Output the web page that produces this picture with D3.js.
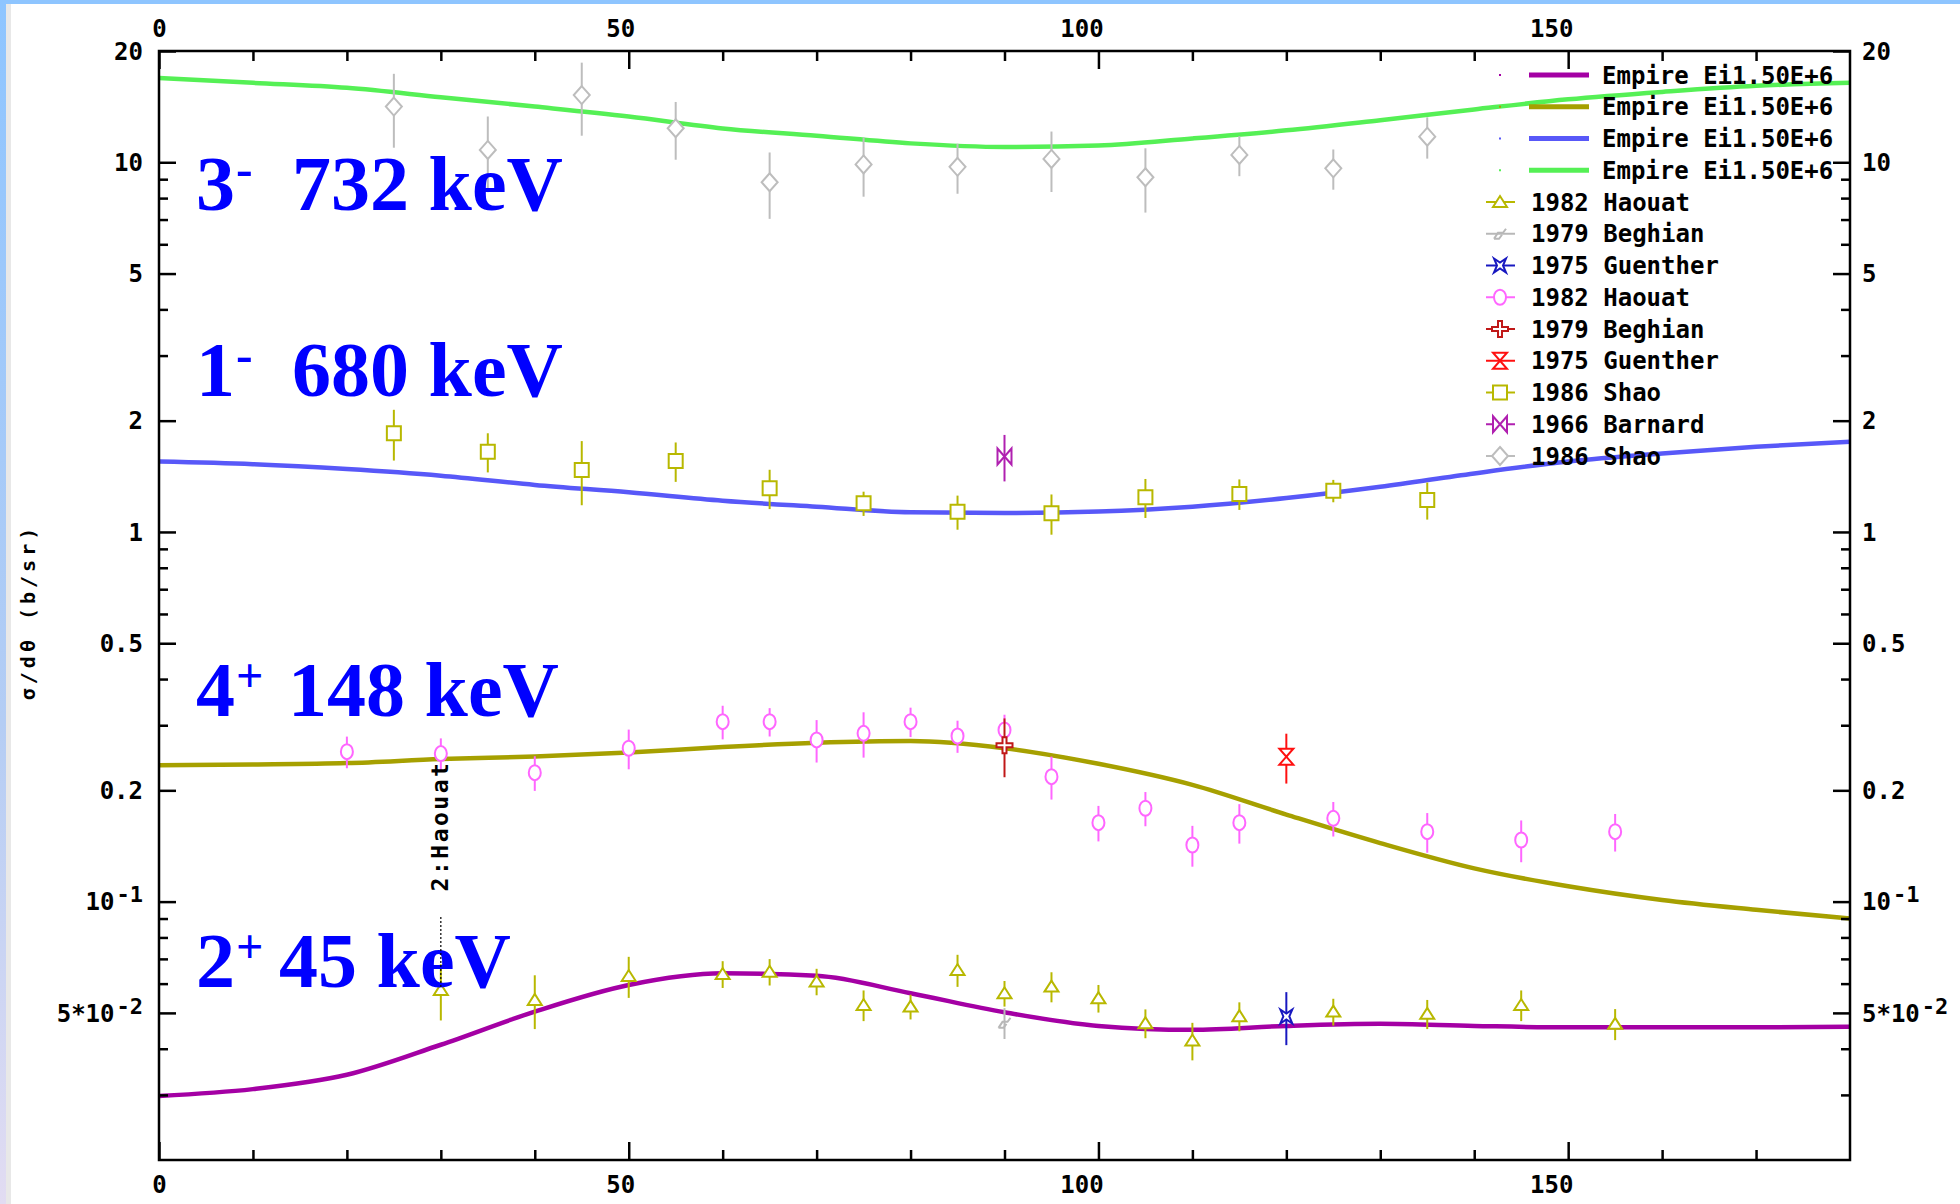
<!DOCTYPE html>
<html>
<head>
<meta charset="utf-8">
<script src="https://cdn.jsdelivr.net/npm/d3@7"></script>
<style>
  body { margin: 0; background: #fff; }
  svg { display: block; }
</style>
</head>
<body>
<svg id="chart" width="1960" height="1204"></svg>
<script>
// angles of the Empire curves (deg)
const angles = [0, 10, 20, 30, 40, 50, 60, 70, 80, 90, 100, 110, 120, 130, 140, 150, 160, 170, 180];

// Empire Ei1.50E+6 curves, one per level (b/sr)
const empire2p = [0.0298, 0.0311, 0.034, 0.041, 0.0504, 0.0595, 0.064, 0.063, 0.0565, 0.0502, 0.0461, 0.045, 0.0461, 0.0467, 0.0461, 0.0457, 0.0457, 0.0457, 0.0459];
const empire4p = [0.234, 0.235, 0.237, 0.243, 0.247, 0.253, 0.262, 0.269, 0.272, 0.26, 0.236, 0.207, 0.172, 0.144, 0.123, 0.110, 0.101, 0.095, 0.090];
const empire1m = [1.55, 1.525, 1.48, 1.42, 1.34, 1.28, 1.215, 1.17, 1.13, 1.125, 1.135, 1.17, 1.235, 1.325, 1.44, 1.55, 1.63, 1.70, 1.755];
const empire3m = [16.9, 16.4, 15.9, 15.0, 14.15, 13.3, 12.35, 11.8, 11.25, 11.0, 11.1, 11.6, 12.2, 13.0, 13.9, 14.8, 15.5, 16.1, 16.4];

// experimental points: [angle, value, error]
const haouat2p = [[30, 0.0577, 0.010], [40, 0.0542, 0.009], [50, 0.0629, 0.008], [60, 0.0637, 0.0053], [65, 0.0646, 0.0053],
  [70, 0.0608, 0.005], [75, 0.0525, 0.005], [80, 0.052, 0.004], [85, 0.0653, 0.0065], [90, 0.0565, 0.0045],
  [95, 0.0589, 0.0055], [100, 0.0548, 0.0047], [105, 0.0469, 0.0042], [110, 0.0421, 0.0049], [115, 0.049, 0.0044],
  [125, 0.0504, 0.0042], [135, 0.0497, 0.0045], [145, 0.0525, 0.005], [155, 0.0467, 0.0045]];
const beghian2p = [[90, 0.047, 0.0045]];
const guenther2p = [[120, 0.0489, 0.008]];
const haouat4p = [[20, 0.2545, 0.025], [30, 0.2514, 0.025], [40, 0.2233, 0.024], [50, 0.26, 0.032], [60, 0.3067, 0.032],
  [65, 0.3067, 0.027], [70, 0.2738, 0.036], [75, 0.2852, 0.04], [80, 0.3067, 0.028], [85, 0.2806, 0.028],
  [90, 0.2913, 0.029], [95, 0.2178, 0.029], [100, 0.1635, 0.018], [105, 0.1789, 0.019], [110, 0.1423, 0.018],
  [115, 0.1635, 0.02], [125, 0.168, 0.018], [135, 0.1546, 0.019], [145, 0.1468, 0.019], [155, 0.1546, 0.018]];
const beghian4p = [[90, 0.265, 0.048]];
const guenther4p = [[120, 0.2466, 0.038]];
const shao1m = [[25, 1.85, 0.29], [35, 1.649, 0.2], [45, 1.471, 0.29], [55, 1.556, 0.19], [65, 1.313, 0.16], [75, 1.195, 0.09],
  [85, 1.134, 0.12], [95, 1.123, 0.14], [105, 1.241, 0.15], [115, 1.267, 0.12], [125, 1.293, 0.09], [135, 1.22, 0.14]];
const barnard1m = [[90, 1.6, 0.23]];
const shao3m = [[25, 14.15, 3.2], [35, 10.8, 2.5], [45, 15.2, 3.4], [55, 12.36, 2.2], [65, 8.83, 1.8], [75, 9.87, 1.8],
  [85, 9.72, 1.5], [95, 10.21, 1.9], [105, 9.11, 1.8], [115, 10.47, 1.3], [125, 9.63, 1.2], [135, 11.73, 1.5]];

// axis ticks
const xMajor = [0, 50, 100, 150];
const xMinor = [10, 20, 30, 40, 60, 70, 80, 90, 110, 120, 130, 140, 160, 170];
const yMajor = [20, 10, 5, 2, 1, 0.5, 0.2, 0.1, 0.05];
const yMinor = [9, 8, 7, 6, 4, 3, 0.9, 0.8, 0.7, 0.6, 0.4, 0.3, 0.09, 0.08, 0.07, 0.06, 0.04, 0.03];
const yLabels = [['20'], ['10'], ['5'], ['2'], ['1'], ['0.5'], ['0.2'], ['10', '-1'], ['5*10', '-2']];

const svg = d3.select('#chart');
const mono = '"DejaVu Sans Mono", "Liberation Mono", monospace';

const x = d3.scaleLinear().domain([0, 180]).range([159, 1850]);
const y = d3.scaleLog().domain([0.02, 20]).range([1160, 51]);

// window frame decoration
const grad = svg.append('defs').append('linearGradient').attr('id', 'side').attr('x1', 0).attr('y1', 0).attr('x2', 0).attr('y2', 1);
grad.append('stop').attr('offset', '0%').attr('stop-color', '#8ec5ff');
grad.append('stop').attr('offset', '60%').attr('stop-color', '#b4cdf4');
grad.append('stop').attr('offset', '100%').attr('stop-color', '#e2dcf2');
svg.append('rect').attr('x', 0).attr('y', 0).attr('width', 1960).attr('height', 4).attr('fill', '#8ec5ff');
svg.append('rect').attr('x', 0).attr('y', 0).attr('width', 6).attr('height', 1204).attr('fill', 'url(#side)');
svg.append('rect').attr('x', 6).attr('y', 4).attr('width', 5).attr('height', 1200).attr('fill', '#e8e8e8');

// curves
const line = d3.line().x((d, i) => x(angles[i])).y(d => y(d)).curve(d3.curveMonotoneX);
[[empire3m, '#55f055'], [empire1m, '#5858f8'], [empire4p, '#a6a000'], [empire2p, '#a400a4']].forEach(([vals, col]) => {
  svg.append('path').datum(vals).attr('d', line).attr('fill', 'none').attr('stroke', col).attr('stroke-width', 4.5);
});

// marker shapes
const shapes = {
  triangle: 'M-7,5 L7,5 L0,-6 Z',
  square: 'M-7,-7 H7 V7 H-7 Z',
  circle: 'M-6,0 A6,7.5 0 1,0 6,0 A6,7.5 0 1,0 -6,0 Z',
  diamond: 'M0,-9 L8,0 L0,9 L-8,0 Z',
  bolt: 'M-6,5 L-2,-1 L3,-1 L6,-5 M-6,5 L-1,5 L2,1',
  star: 'M-6,-7 L0,-3 L6,-7 L3,0 L6,7 L0,3 L-6,7 L-3,0 Z',
  cross: 'M-2,-8 H2 V-2 H8 V2 H2 V8 H-2 V2 H-8 V-2 H-2 Z',
  hourglass: 'M-7,-8 H7 L0,0 Z M-7,8 H7 L0,0 Z',
  bowtie: 'M-7,-8 V8 L0,0 Z M7,-8 V8 L0,0 Z'
};

const sets = [
  { data: shao3m, shape: 'diamond', color: '#bdbdbd' },
  { data: shao1m, shape: 'square', color: '#b8b800' },
  { data: barnard1m, shape: 'bowtie', color: '#b020b0' },
  { data: haouat4p, shape: 'circle', color: '#ff66ff' },
  { data: beghian4p, shape: 'cross', color: '#c01818' },
  { data: guenther4p, shape: 'hourglass', color: '#ff1010' },
  { data: haouat2p, shape: 'triangle', color: '#b8b800' },
  { data: beghian2p, shape: 'bolt', color: '#b8b8b8' },
  { data: guenther2p, shape: 'star', color: '#1818c0' }
];

sets.forEach(s => {
  const g = svg.append('g');
  g.selectAll('line').data(s.data).join('line')
    .attr('x1', d => x(d[0])).attr('x2', d => x(d[0]))
    .attr('y1', d => y(d[1] + d[2])).attr('y2', d => y(d[1] - d[2]))
    .attr('stroke', s.color).attr('stroke-width', 2);
  g.selectAll('path').data(s.data).join('path')
    .attr('transform', d => `translate(${x(d[0])},${y(d[1])})`)
    .attr('d', shapes[s.shape])
    .attr('fill', s.shape === 'bolt' ? 'none' : '#fff')
    .attr('stroke', s.color).attr('stroke-width', 2);
});

// level labels
const levels = [
  { spin: '3', parity: '-', rest: '732 keV', base: 210, restX: 292 },
  { spin: '1', parity: '-', rest: '680 keV', base: 396, restX: 292 },
  { spin: '4', parity: '+', rest: '148 keV', base: 716, restX: 288 },
  { spin: '2', parity: '+', rest: '45 keV', base: 987, restX: 279 }
];
levels.forEach(l => {
  const t = svg.append('text')
    .attr('x', 196).attr('y', l.base)
    .attr('font-family', '"Liberation Serif", "Times New Roman", serif')
    .attr('font-weight', 'bold').attr('font-size', 78).attr('fill', '#0000ff');
  t.append('tspan').text(l.spin);
  t.append('tspan')
    .attr('font-size', l.parity === '+' ? 48 : 50)
    .attr('dx', 1)
    .attr('dy', -24)
    .text(l.parity);
  t.append('tspan').attr('x', l.restX).attr('y', l.base).text(l.rest);
});

// "2:Haouat" annotation
svg.append('line').attr('x1', x(30)).attr('x2', x(30)).attr('y1', 917).attr('y2', 988)
  .attr('stroke', '#000').attr('stroke-width', 1.2).attr('stroke-dasharray', '2,2');
svg.append('text').attr('transform', 'translate(448,826) rotate(-90)')
  .attr('text-anchor', 'middle').attr('font-family', mono).attr('font-size', 23)
  .attr('font-weight', 'bold').attr('letter-spacing', 2.5).attr('fill', '#000').text('2:Haouat');

// legend
const legendRows = [
  { label: 'Empire Ei1.50E+6', color: '#a400a4', shape: null },
  { label: 'Empire Ei1.50E+6', color: '#a6a000', shape: null },
  { label: 'Empire Ei1.50E+6', color: '#5858f8', shape: null },
  { label: 'Empire Ei1.50E+6', color: '#55f055', shape: null },
  { label: '1982 Haouat', color: '#b8b800', shape: 'triangle' },
  { label: '1979 Beghian', color: '#b8b8b8', shape: 'bolt' },
  { label: '1975 Guenther', color: '#1818c0', shape: 'star' },
  { label: '1982 Haouat', color: '#ff66ff', shape: 'circle' },
  { label: '1979 Beghian', color: '#c01818', shape: 'cross' },
  { label: '1975 Guenther', color: '#ff1010', shape: 'hourglass' },
  { label: '1986 Shao', color: '#b8b800', shape: 'square' },
  { label: '1966 Barnard', color: '#b020b0', shape: 'bowtie' },
  { label: '1986 Shao', color: '#bdbdbd', shape: 'diamond' }
];
const leg = svg.append('g');
legendRows.forEach((r, i) => {
  const ry = 75 + i * 31.75;
  if (!r.shape) {
    leg.append('rect').attr('x', 1499).attr('y', ry - 1).attr('width', 2).attr('height', 2).attr('fill', r.color);
    leg.append('line').attr('x1', 1529).attr('x2', 1589).attr('y1', ry).attr('y2', ry)
      .attr('stroke', r.color).attr('stroke-width', 5);
  } else {
    leg.append('line').attr('x1', 1486).attr('x2', 1515).attr('y1', ry).attr('y2', ry)
      .attr('stroke', r.color).attr('stroke-width', 2);
    leg.append('path').attr('transform', `translate(1500,${ry})`).attr('d', shapes[r.shape])
      .attr('fill', r.shape === 'bolt' ? 'none' : '#fff').attr('stroke', r.color).attr('stroke-width', 2);
  }
  leg.append('text').attr('x', r.shape ? 1531 : 1602).attr('y', ry).attr('dy', '0.36em')
    .attr('font-family', mono).attr('font-weight', 'bold').attr('font-size', 24).attr('fill', '#000')
    .text(r.label);
});

// axes
function addAxis(axis, transform, withLabels) {
  const g = svg.append('g').attr('transform', transform).call(axis);
  g.select('.domain').remove();
  g.selectAll('.tick line').attr('stroke', '#000').attr('stroke-width', 2.5);
  g.attr('font-family', mono).attr('font-size', 24).attr('font-weight', 'bold');
  if (withLabels) g.selectAll('.tick text').attr('dx', d => -(String(d).length - 1) * 8.5);
  return g;
}
addAxis(d3.axisTop(x).tickValues(xMajor).tickSize(-18).tickPadding(14), 'translate(0,51)', true);
addAxis(d3.axisTop(x).tickValues(xMinor).tickSize(-10).tickFormat(''), 'translate(0,51)', false);
addAxis(d3.axisBottom(x).tickValues(xMajor).tickSize(-18).tickPadding(16), 'translate(0,1160)', true);
addAxis(d3.axisBottom(x).tickValues(xMinor).tickSize(-10).tickFormat(''), 'translate(0,1160)', false);
addAxis(d3.axisLeft(y).tickValues(yMajor).tickSize(-17).tickFormat(''), 'translate(159,0)', false);
addAxis(d3.axisLeft(y).tickValues(yMinor).tickSize(-9).tickFormat(''), 'translate(159,0)', false);
addAxis(d3.axisRight(y).tickValues(yMajor).tickSize(-17).tickFormat(''), 'translate(1850,0)', false);
addAxis(d3.axisRight(y).tickValues(yMinor).tickSize(-9).tickFormat(''), 'translate(1850,0)', false);

svg.append('rect')
  .attr('x', x(0)).attr('y', y(20)).attr('width', x(180) - x(0)).attr('height', y(0.02) - y(20))
  .attr('fill', 'none').attr('stroke', '#000').attr('stroke-width', 2.5);

// y tick labels on both sides
[[143, 'end'], [1862, 'start']].forEach(([lx, anchor]) => {
  yMajor.forEach((v, i) => {
    const parts = yLabels[i];
    const t = svg.append('text').attr('x', lx).attr('y', y(v)).attr('dy', '0.36em')
      .attr('text-anchor', anchor).attr('font-family', mono).attr('font-weight', 'bold')
      .attr('font-size', 24).attr('fill', '#000');
    t.append('tspan').text(parts[0]);
    if (parts[1]) t.append('tspan').attr('font-size', 22).attr('dx', 2).attr('dy', -8).text(parts[1]);
  });
});

// y axis title
svg.append('text').attr('transform', 'translate(35,612) rotate(-90)')
  .attr('text-anchor', 'middle').attr('font-family', mono).attr('font-weight', 'bold')
  .attr('font-size', 20).attr('letter-spacing', 4).attr('fill', '#000')
  .text('σ/dθ  (b/sr)');
</script>
</body>
</html>
